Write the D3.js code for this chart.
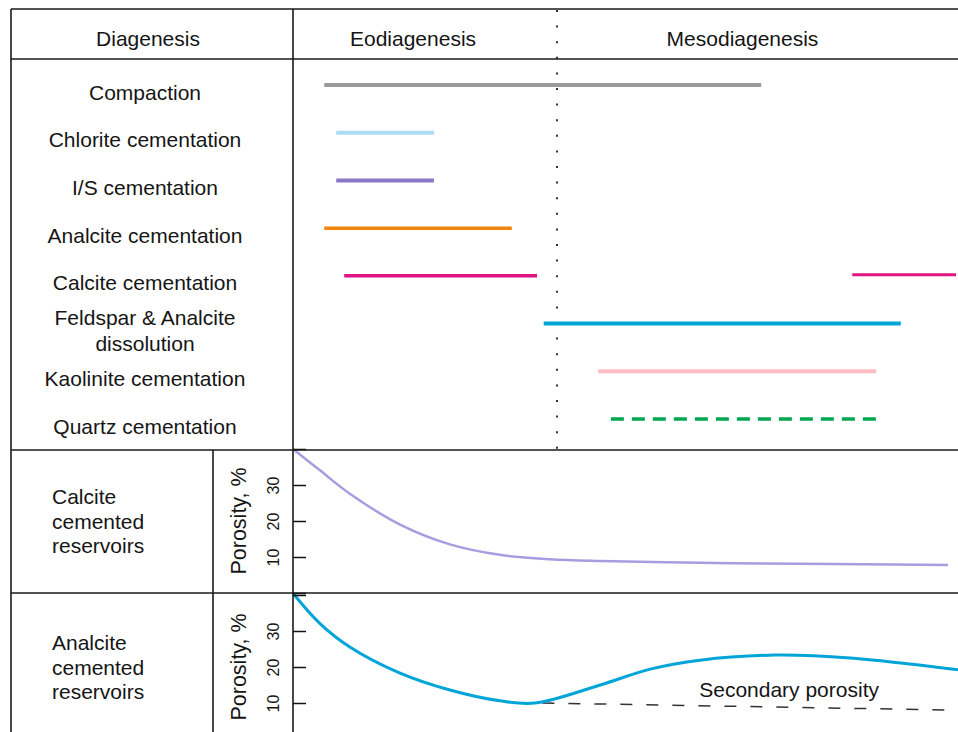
<!DOCTYPE html>
<html>
<head>
<meta charset="utf-8">
<script src="https://cdn.jsdelivr.net/npm/d3@7"></script>
<style>
  body { margin: 0; background: #fff; }
  text { font-family: "Liberation Sans", Arial, sans-serif; fill: #151515; }
</style>
</head>
<body>
<div id="chart"></div>
<script>
// ---- data (time axis is a relative 0-100 burial/time scale) ----
const processes = ["Compaction", "Chlorite cementation", "I/S cementation", "Analcite cementation",
  "Calcite cementation", "Feldspar & Analcite\ndissolution", "Kaolinite cementation", "Quartz cementation"];
const periodStart = [4.7, 6.5, 6.5, 4.7, 7.7, 37.7, 45.9, 47.8];
const periodEnd   = [70.4, 21.2, 21.2, 32.9, 36.7, 91.4, 87.7, 87.7];
const lateCalcite = [84.1, 99.7];            // second calcite cementation phase

const stages = ["Eodiagenesis", "Mesodiagenesis"];
const stageBoundary = 39.7;

const porosityTicks = [0, 10, 20, 30, 40];

const calciteTime     = [0, 4.1, 8.6, 16.1, 23.6, 31.1, 38.6, 46.2, 61.2, 76.2, 98.5];
const calcitePorosity = [40, 34, 27.5, 19, 13.5, 10.6, 9.4, 8.9, 8.4, 8.1, 7.8];

const analciteTime     = [0, 4.1, 8.6, 16.1, 23.6, 31.1, 36.4, 46.2, 53.7, 61.2, 72.5, 83.8, 100];
const analcitePorosity = [40.5, 32, 25.5, 18.3, 13.6, 10.6, 10, 15, 19.4, 21.9, 23.3, 22.5, 19.2];

const primaryTime     = [37.5, 100];
const primaryPorosity = [10, 8];

// ---- styles ----
const colors = ["#9b9b9b", "#acdcf2", "#8a78c8", "#f2840f", "#df1480", "#00a5d8", "#ffbcc3", "#00a650"];
const widths = [4, 4, 4, 3.5, 3.5, 4, 4, 3.5];

// ---- layout ----
const W = 958, H = 732;
const leftX = 11, topY = 9, splitX = 293, headerBottom = 59, processBottom = 450, panelSplit = 593, subSplit = 213;
const fs = 21;

const svg = d3.select("#chart").append("svg")
  .attr("width", W).attr("height", H)
  .style("background", "#fff");

const x = d3.scaleLinear().domain([0, 100]).range([splitX, W]);
const row = d3.scalePoint().domain(processes).range([92, 426]);
const yCal = d3.scaleLinear().domain([0, 40]).range([593, 449]);
const yAna = d3.scaleLinear().domain([0, 40]).range([739, 595]);

// stage boundary (dotted)
svg.append("line")
  .attr("x1", x(stageBoundary)).attr("x2", x(stageBoundary))
  .attr("y1", topY + 1).attr("y2", processBottom)
  .attr("stroke", "#333").attr("stroke-width", 2)
  .attr("stroke-dasharray", "2 13.6");

// header texts
svg.append("text").attr("x", (leftX + splitX) / 2 - 4).attr("y", 46)
  .attr("text-anchor", "middle").style("font-size", fs + "px").text("Diagenesis");
const stageCenters = [(x(0) + x(stageBoundary)) / 2 - 12, (x(stageBoundary) + x(100)) / 2 - 15];
svg.selectAll(".stage").data(stages).enter().append("text")
  .attr("class", "stage")
  .attr("x", (d, i) => stageCenters[i]).attr("y", 46)
  .attr("text-anchor", "middle").style("font-size", fs + "px").text(d => d);

// process labels
const labels = svg.selectAll(".plabel").data(processes).enter().append("text")
  .attr("class", "plabel")
  .attr("text-anchor", "middle")
  .style("font-size", fs + "px");
labels.each(function (d) {
  const lines = d.split("\n");
  const t = d3.select(this);
  lines.forEach((ln, j) => {
    t.append("tspan")
      .attr("x", 145)
      .attr("y", row(d) + 7.5 + (j - (lines.length - 1) / 2) * 26.5)
      .text(ln);
  });
});

// process bars
svg.selectAll(".bar").data(processes).enter().append("line")
  .attr("class", "bar")
  .attr("x1", (d, i) => x(periodStart[i]))
  .attr("x2", (d, i) => x(periodEnd[i]))
  .attr("y1", d => row(d) - 7).attr("y2", d => row(d) - 7)
  .attr("stroke", (d, i) => colors[i])
  .attr("stroke-width", (d, i) => widths[i])
  .attr("stroke-dasharray", (d, i) => i === 7 ? "13 8" : null);

svg.append("line")
  .attr("x1", x(lateCalcite[0])).attr("x2", x(lateCalcite[1]))
  .attr("y1", row(processes[4]) - 8).attr("y2", row(processes[4]) - 8)
  .attr("stroke", colors[4]).attr("stroke-width", 3);

// porosity panels
const line = (y) => d3.line().x(d => x(d[0])).y(d => y(d[1])).curve(d3.curveCatmullRom.alpha(0.5));

svg.append("path")
  .datum(d3.zip(calciteTime, calcitePorosity))
  .attr("fill", "none").attr("stroke", "#a99de0").attr("stroke-width", 2.5)
  .attr("d", line(yCal));

svg.append("path")
  .datum(d3.zip(primaryTime, primaryPorosity))
  .attr("fill", "none").attr("stroke", "#333").attr("stroke-width", 1.5)
  .attr("stroke-dasharray", "12 14")
  .attr("d", line(yAna));

svg.append("path")
  .datum(d3.zip(analciteTime, analcitePorosity))
  .attr("fill", "none").attr("stroke", "#00a5d8").attr("stroke-width", 3)
  .attr("d", line(yAna));

svg.append("text")
  .attr("x", x(74.6)).attr("y", yAna(11.6))
  .attr("text-anchor", "middle").style("font-size", fs + "px")
  .text("Secondary porosity");

function porosityAxis(y) {
  const g = svg.append("g").attr("transform", `translate(${splitX},0)`)
    .call(d3.axisLeft(y).tickValues(porosityTicks).tickSizeInner(-13).tickSizeOuter(0)
      .tickFormat(d => (d > 0 && d < 40) ? d : ""));
  g.select(".domain").remove();
  g.selectAll(".tick line").attr("stroke", "#111").attr("stroke-width", 1.5);
  g.selectAll(".tick text")
    .attr("x", 0).attr("dy", "0.35em")
    .attr("text-anchor", "middle")
    .attr("transform", "translate(-19.5,0) rotate(-90)")
    .style("font-size", "16px");
  svg.append("text")
    .attr("transform", `translate(238,${y(20)}) rotate(-90)`)
    .attr("dy", "0.35em")
    .attr("text-anchor", "middle").style("font-size", "21.5px")
    .text("Porosity, %");
}
porosityAxis(yCal);
porosityAxis(yAna);

// panel labels
const panelLabels = [["Calcite", "cemented", "reservoirs"], ["Analcite", "cemented", "reservoirs"]];
const panelScales = [yCal, yAna];
panelLabels.forEach((lines, k) => {
  const t = svg.append("text").style("font-size", fs + "px");
  lines.forEach((ln, j) => {
    t.append("tspan").attr("x", 52)
      .attr("y", panelScales[k](40) + 55 + j * 24.5)
      .text(ln);
  });
});

// table grid
const grid = svg.append("g").attr("stroke", "#1a1a1a").attr("stroke-width", 1.6);
[[leftX, topY, W, topY], [leftX, headerBottom, W, headerBottom],
 [leftX, processBottom, W, processBottom], [leftX, panelSplit, W, panelSplit],
 [leftX, topY, leftX, H], [splitX, topY, splitX, H], [subSplit, processBottom, subSplit, H]]
  .forEach(s => grid.append("line")
    .attr("x1", s[0]).attr("y1", s[1]).attr("x2", s[2]).attr("y2", s[3]));
</script>
</body>
</html>
